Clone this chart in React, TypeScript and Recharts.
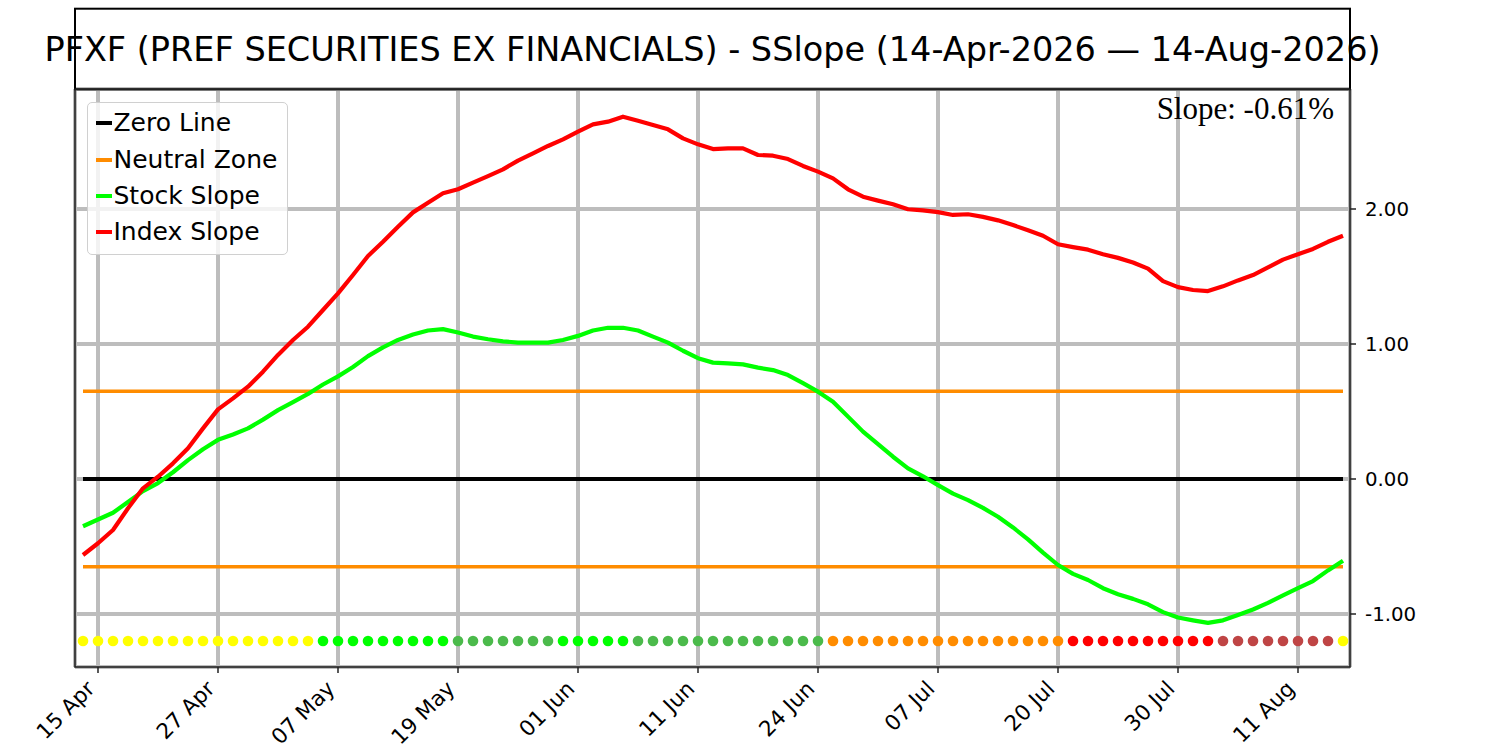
import React from 'react';
import { ComposedChart, Line, Scatter, Cell, XAxis, YAxis, CartesianGrid, ReferenceLine } from 'recharts';

// trading days 14-Apr-2026 .. 14-Aug-2026
const dates = [
  '14 Apr', '15 Apr', '16 Apr', '17 Apr', '20 Apr', '21 Apr', '22 Apr', '23 Apr', '24 Apr', '27 Apr',
  '28 Apr', '29 Apr', '30 Apr', '01 May', '04 May', '05 May', '06 May', '07 May', '08 May', '11 May',
  '12 May', '13 May', '14 May', '15 May', '18 May', '19 May', '20 May', '21 May', '22 May', '26 May',
  '27 May', '28 May', '29 May', '01 Jun', '02 Jun', '03 Jun', '04 Jun', '05 Jun', '08 Jun', '09 Jun',
  '10 Jun', '11 Jun', '12 Jun', '15 Jun', '16 Jun', '17 Jun', '18 Jun', '22 Jun', '23 Jun', '24 Jun',
  '25 Jun', '26 Jun', '29 Jun', '30 Jun', '01 Jul', '02 Jul', '06 Jul', '07 Jul', '08 Jul', '09 Jul',
  '13 Jul', '14 Jul', '15 Jul', '16 Jul', '17 Jul', '20 Jul', '21 Jul', '22 Jul', '23 Jul', '24 Jul',
  '27 Jul', '28 Jul', '29 Jul', '30 Jul', '31 Jul', '03 Aug', '04 Aug', '05 Aug', '06 Aug', '07 Aug',
  '10 Aug', '11 Aug', '12 Aug', '13 Aug', '14 Aug',
];

const stockSlope = [
  -0.35, -0.3, -0.25, -0.17, -0.09, -0.03, 0.05, 0.14, 0.22, 0.29,
  0.33, 0.375, 0.44, 0.51, 0.57, 0.63, 0.7, 0.76, 0.83, 0.91,
  0.975, 1.03, 1.07, 1.1, 1.11, 1.085, 1.055, 1.035, 1.02, 1.01,
  1.01, 1.01, 1.03, 1.06, 1.1, 1.12, 1.12, 1.1, 1.055, 1.01,
  0.95, 0.895, 0.862, 0.857, 0.849, 0.825, 0.807, 0.77, 0.71, 0.647,
  0.573, 0.462, 0.351, 0.259, 0.165, 0.079, 0.02, -0.045, -0.108, -0.156,
  -0.214, -0.28, -0.359, -0.447, -0.545, -0.637, -0.703, -0.748, -0.809, -0.854,
  -0.888, -0.928, -0.986, -1.026, -1.047, -1.066, -1.047, -1.007, -0.967, -0.918,
  -0.862, -0.809, -0.756, -0.677, -0.605,
];

const indexSlope = [
  -0.563, -0.476, -0.378, -0.217, -0.069, 0.017, 0.116, 0.227, 0.375, 0.516,
  0.597, 0.684, 0.795, 0.919, 1.03, 1.128, 1.252, 1.375, 1.511, 1.652,
  1.758, 1.869, 1.975, 2.047, 2.116, 2.146, 2.195, 2.244, 2.294, 2.358,
  2.412, 2.467, 2.516, 2.573, 2.627, 2.647, 2.684, 2.654, 2.622, 2.59,
  2.523, 2.479, 2.444, 2.449, 2.449, 2.4, 2.395, 2.37, 2.319, 2.277,
  2.227, 2.146, 2.091, 2.062, 2.035, 1.998, 1.99, 1.977, 1.956, 1.961,
  1.942, 1.916, 1.881, 1.842, 1.802, 1.739, 1.718, 1.699, 1.665, 1.638,
  1.604, 1.558, 1.466, 1.421, 1.4, 1.392, 1.427, 1.471, 1.511, 1.567,
  1.625, 1.665, 1.704, 1.757, 1.802,
];

// Y yellow, G lime, D dark green, O orange, R red, B brown
const signal = [
  'Y', 'Y', 'Y', 'Y', 'Y', 'Y', 'Y', 'Y', 'Y', 'Y', 'Y', 'Y', 'Y', 'Y', 'Y', 'Y',
  'G', 'G', 'G', 'G', 'G', 'G', 'G', 'G', 'G',
  'D', 'D', 'D', 'D', 'D', 'D', 'D',
  'G', 'G', 'G', 'G', 'G',
  'D', 'D', 'D', 'D', 'D', 'D', 'D', 'D', 'D', 'D', 'D', 'D', 'D',
  'O', 'O', 'O', 'O', 'O', 'O', 'O', 'O', 'O', 'O', 'O', 'O', 'O', 'O', 'O', 'O',
  'R', 'R', 'R', 'R', 'R', 'R', 'R', 'R', 'R', 'R',
  'B', 'B', 'B', 'B', 'B', 'B', 'B', 'B',
  'Y',
];

const xTicks = [1, 9, 17, 25, 33, 41, 49, 57, 65, 73, 81];
const yTicks = [-1, 0, 1, 2];
const NEUTRAL = 0.65;
const DOT_LEVEL = -1.2;
const TITLE = 'PFXF (PREF SECURITIES EX FINANCIALS) - SSlope (14-Apr-2026 \u2014 14-Aug-2026)';
const SLOPE_TEXT = 'Slope: -0.61%';

const signalColors: Record<string, string> = {
  Y: '#ffff00',
  G: '#00ff00',
  D: '#4bba4b',
  O: '#ff8c00',
  R: '#ff0000',
  B: '#bf4545',
};

const legendItems = [
  { label: 'Zero Line', color: '#000000' },
  { label: 'Neutral Zone', color: '#ff8c00' },
  { label: 'Stock Slope', color: '#00ff00' },
  { label: 'Index Slope', color: '#ff0000' },
];

const FONT = 'DejaVu Sans';

const chartData = dates.map((d, i) => ({ i, date: d, stock: stockSlope[i], index: indexSlope[i] }));
const dotData = signal.map((s, i) => ({ i, y: DOT_LEVEL, s }));

function DateTick({ x, payload }: any) {
  const tx = x - 2;
  const ty = 690;
  return (
    <text
      x={tx}
      y={ty}
      textAnchor="end"
      transform={`rotate(-45 ${tx} ${ty})`}
      fontFamily={FONT}
      fontSize={21.5}
      fill="#000"
    >
      {dates[payload.value]}
    </text>
  );
}

export default function App() {
  const last = dates.length - 1;
  return (
    <div style={{ position: 'absolute', left: 0, top: 0, width: 1500, height: 750, background: '#fff' }}>
      <ComposedChart width={1500} height={750} data={chartData} margin={{ top: 89, right: 0, bottom: 0, left: 75 }}>
        <CartesianGrid stroke="#bdbdbd" strokeWidth={4} />
        <XAxis
          type="number"
          dataKey="i"
          domain={[-0.5333, 84.4667]}
          ticks={xTicks}
          allowDataOverflow
          height={83}
          axisLine={false}
          tickSize={6}
          tickLine={{ stroke: '#222', strokeWidth: 1.5 }}
          tick={<DateTick />}
          interval={0}
        />
        <YAxis
          orientation="right"
          domain={[-1.3926, 2.8889]}
          ticks={yTicks}
          allowDataOverflow
          width={150}
          axisLine={false}
          tickSize={6}
          tickMargin={9}
          tickLine={{ stroke: '#222', strokeWidth: 1.5 }}
          tickFormatter={(v: number) => v.toFixed(2)}
          tick={{ fill: '#000', fontSize: 19.8, fontFamily: FONT }}
        />
        <ReferenceLine segment={[{ x: 0, y: 0 }, { x: last, y: 0 }]} stroke="#000" strokeWidth={4} />
        <ReferenceLine segment={[{ x: 0, y: NEUTRAL }, { x: last, y: NEUTRAL }]} stroke="#ff8c00" strokeWidth={3.5} />
        <ReferenceLine segment={[{ x: 0, y: -NEUTRAL }, { x: last, y: -NEUTRAL }]} stroke="#ff8c00" strokeWidth={3.5} />
        <Line type="linear" dataKey="stock" stroke="#00ff00" strokeWidth={4.2} dot={false} isAnimationActive={false} strokeLinejoin="round" />
        <Line type="linear" dataKey="index" stroke="#ff0000" strokeWidth={4.2} dot={false} isAnimationActive={false} strokeLinejoin="round" />
        <Scatter
          data={dotData}
          dataKey="y"
          isAnimationActive={false}
          shape={(p: any) => <circle cx={p.cx} cy={p.cy} r={5.3} fill={p.fill} />}
        >
          {dotData.map((d) => (
            <Cell key={d.i} fill={signalColors[d.s]} />
          ))}
        </Scatter>
      </ComposedChart>

      <div
        style={{
          position: 'absolute',
          left: 87,
          top: 101.5,
          width: 200.5,
          height: 153.5,
          boxSizing: 'border-box',
          border: '1.5px solid #d0d0d0',
          borderRadius: 5,
          background: 'rgba(255,255,255,0.8)',
          paddingTop: 2.5,
          fontFamily: FONT,
          fontSize: 25,
        }}
      >
        {legendItems.map((item) => (
          <div key={item.label} style={{ display: 'flex', alignItems: 'center', height: 36.4 }}>
            <div style={{ width: 16.7, height: 4, marginLeft: 7.5, background: item.color }} />
            <span style={{ marginLeft: 1.3, lineHeight: '36px' }}>{item.label}</span>
          </div>
        ))}
      </div>

      <svg width={1500} height={750} style={{ position: 'absolute', left: 0, top: 0, pointerEvents: 'none' }}>
        <rect x={75} y={8.7} width={1275} height={80.6} fill="none" stroke="#000" strokeWidth={2} />
        <rect x={75} y={89.3} width={1275} height={577.7} fill="none" stroke="#222" strokeWidth={1.6} />
        <text x={712.5} y={61} textAnchor="middle" fontFamily={FONT} fontSize={33.5} fill="#000">
          {TITLE}
        </text>
        <text x={1334} y={119} textAnchor="end" fontFamily="Liberation Serif" fontSize={31} fill="#000">
          {SLOPE_TEXT}
        </text>
      </svg>
    </div>
  );
}
